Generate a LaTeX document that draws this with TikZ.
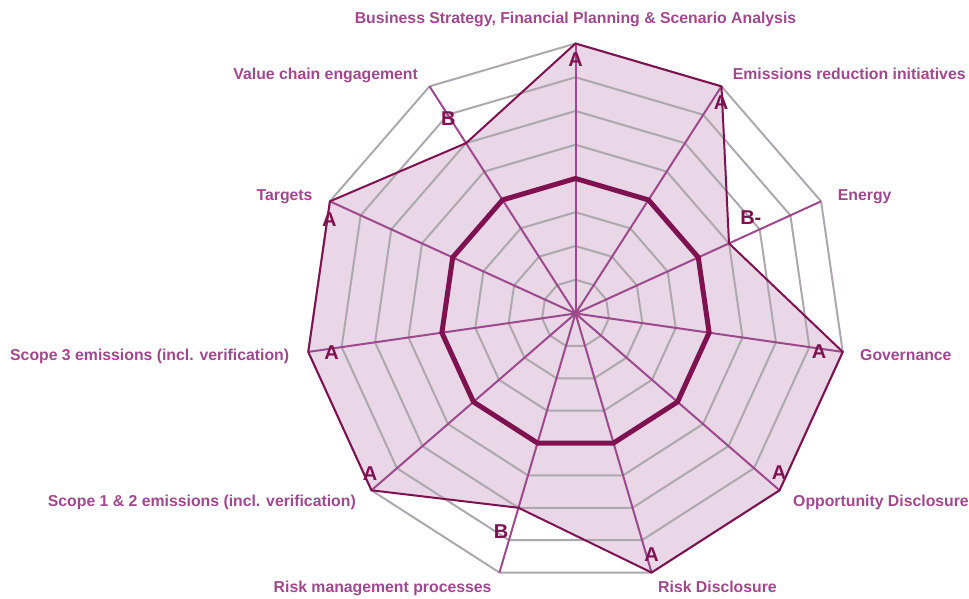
\documentclass[tikz,border=0pt]{standalone}
\usepackage{fontspec}
\setmainfont{Liberation Sans}
\definecolor{labc}{HTML}{A0488D}
\definecolor{darkc}{HTML}{7E1250}
\definecolor{spokec}{HTML}{9C4A8C}
\definecolor{gridc}{HTML}{ADA8AD}
\definecolor{fillc}{HTML}{E9D6E6}
\tikzset{
  catlabel/.style={inner sep=0pt, text=labc, font=\fontsize{15.8}{18}\selectfont\bfseries},
  grade/.style={inner sep=0pt, text=darkc, font=\fontsize{20}{23}\selectfont\bfseries},
  gridline/.style={draw=gridc, line width=2pt, line join=round},
  spokeline/.style={draw=spokec, line width=2pt},
  dataline/.style={draw=darkc, line width=2pt, line join=miter},
  midring/.style={draw=darkc, line width=5pt, line join=miter}
}
\begin{document}
\begin{tikzpicture}[x=1pt,y=1pt]
\useasboundingbox (0,0) rectangle (969,599);
\coordinate (O) at (575.5,285.5);
\begin{scope}[shift={(O)}]
  % data fill
  \fill[fillc] (90:270) -- (57.2727:270) -- (24.5455:168.75) -- (-8.1818:270)
    -- (-40.9091:270) -- (-73.6364:270) -- (-106.3636:202.5) -- (-139.0909:270)
    -- (-171.8182:270) -- (155.4545:270) -- (122.7273:202.5) -- cycle;
  % grid rings
  \foreach \k in {1,2,3,5,6,7,8}{
    \draw[gridline] (90:{\k*33.75}) \foreach \i in {1,...,10}{ -- ({90-\i*32.72727}:{\k*33.75}) } -- cycle;
  }
  % spokes
  \foreach \i in {0,...,10}{
    \coordinate (s\i) at ({90-\i*32.72727}:270);
    \draw[spokeline] (0,0) -- (s\i);
  }
  % thick middle ring
  \draw[midring] (90:135) \foreach \i in {1,...,10}{ -- ({90-\i*32.72727}:135) } -- cycle;
  % data outline
  \draw[dataline] (90:270) -- (57.2727:270) -- (24.5455:168.75) -- (-8.1818:270)
    -- (-40.9091:270) -- (-73.6364:270) -- (-106.3636:202.5) -- (-139.0909:270)
    -- (-171.8182:270) -- (155.4545:270) -- (122.7273:202.5) -- cycle;
\end{scope}
% category labels
\node[catlabel, anchor=base] (bus) at (575.5,575) {Business Strategy, Financial Planning \& Scenario Analysis};
\node[catlabel, anchor=base east] (val) at (418,519.9) {Value chain engagement};
\node[catlabel, anchor=base west] (emi) at (732.7,519.9) {Emissions reduction initiatives};
\node[catlabel, anchor=base west] (ene) at (837.7,398.2) {Energy};
\node[catlabel, anchor=base east] (tar) at (312.7,398.2) {Targets};
\node[catlabel, anchor=base west] (sc3) at (10,238.9) {Scope 3 emissions (incl. verification)};
\node[catlabel, anchor=base west] (gov) at (860,238.9) {Governance};
\node[catlabel, anchor=base east] (sc12) at (356,92.2) {Scope 1 \& 2 emissions (incl. verification)};
\node[catlabel, anchor=base west] (opp) at (793,92.2) {Opportunity Disclosure};
\node[catlabel, anchor=base east] (rmp) at (491.7,6.2) {Risk management processes};
\node[catlabel, anchor=base west] (rd) at (658,6.2) {Risk Disclosure};
% grade labels
\node[grade] (g0) at (575.7,539) {A};
\node[grade] (g1) at (721.2,496) {A};
\node[grade] (g2) at (750.8,381.5) {B-};
\node[grade] (g3) at (819,247) {A};
\node[grade] (g4) at (779,126.7) {A};
\node[grade] (g5) at (651.7,44) {A};
\node[grade] (g6) at (501,67.3) {B};
\node[grade] (g7) at (370,125.7) {A};
\node[grade] (g8) at (331.7,246.7) {A};
\node[grade] (g9) at (329.3,379.7) {A};
\node[grade] (g10) at (448.3,480.7) {B};
\end{tikzpicture}
\end{document}
